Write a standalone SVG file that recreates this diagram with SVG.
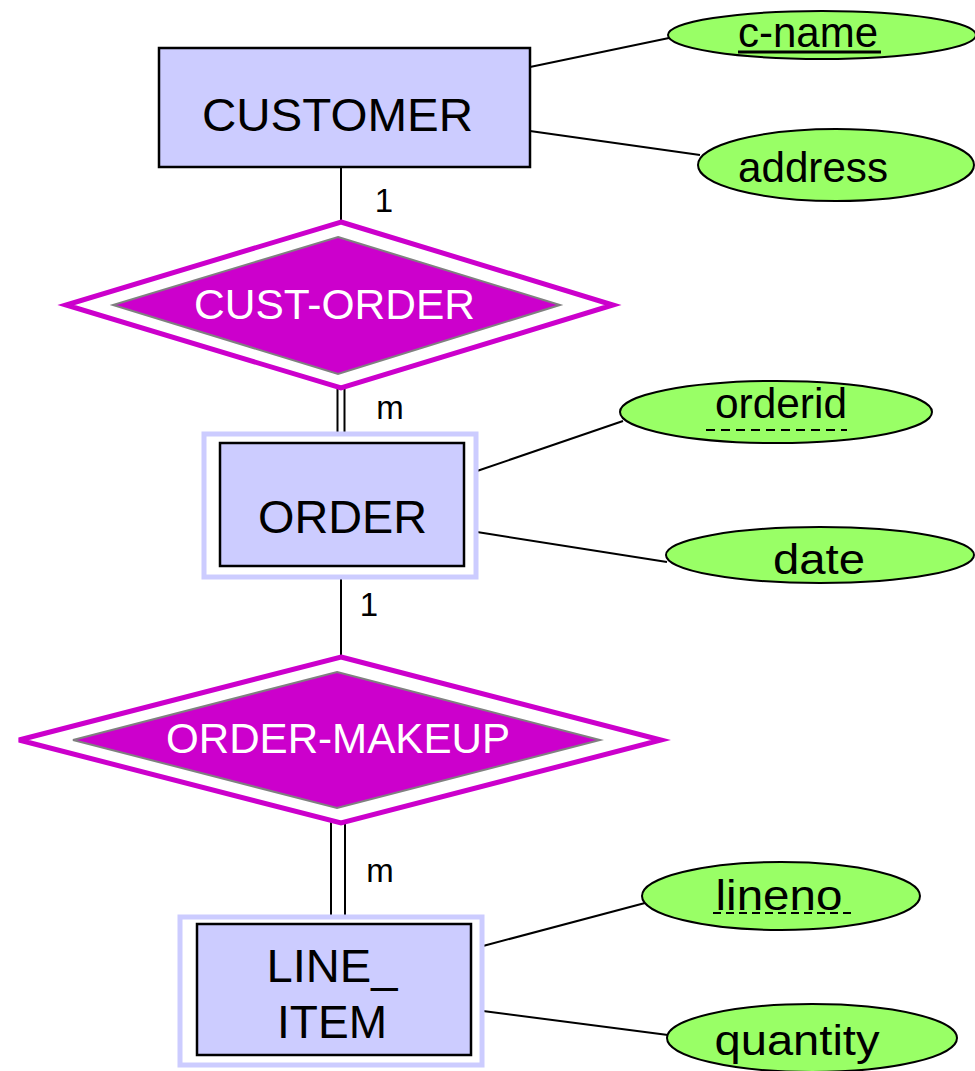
<svg xmlns="http://www.w3.org/2000/svg" width="975" height="1071" viewBox="0 0 975 1071">
<style>
text{font-family:"Liberation Sans",Arial,sans-serif;}
.ent{fill:#CCCCFF;stroke:#000;stroke-width:2.5;}
.weak{fill:#fff;stroke:#CCCCFF;stroke-width:5;}
.etxt{font-size:47px;fill:#000;text-anchor:middle;}
.relo{fill:#fff;stroke:#CC00CC;stroke-width:5;stroke-linejoin:miter;}
.reli{fill:#CC00CC;stroke:#808080;stroke-width:2;}
.rtxt{font-size:42px;fill:#fff;text-anchor:middle;}
.attr{fill:#99FF66;stroke:#000;stroke-width:2;}
.atxt{font-size:43px;fill:#000;text-anchor:middle;}
.card{font-size:33px;fill:#000;text-anchor:middle;}
.ln{stroke:#000;stroke-width:2;fill:none;}
</style>
<g id="connectors">
<line class="ln" x1="341" y1="167" x2="341" y2="224"/>
<line class="ln" x1="530" y1="67" x2="669" y2="38"/>
<line class="ln" x1="530" y1="131" x2="700" y2="155"/>
<line class="ln" x1="337.5" y1="386" x2="337.5" y2="432"/>
<line class="ln" x1="344.5" y1="386" x2="344.5" y2="432"/>
<line class="ln" x1="477" y1="471" x2="623" y2="421"/>
<line class="ln" x1="477" y1="532" x2="667" y2="562"/>
<line class="ln" x1="341" y1="578" x2="341" y2="659"/>
<line class="ln" x1="331" y1="821" x2="331" y2="916"/>
<line class="ln" x1="345" y1="821" x2="345" y2="916"/>
<line class="ln" x1="483" y1="946" x2="645" y2="903"/>
<line class="ln" x1="483" y1="1011" x2="668" y2="1035"/>
<text class="card" x="384" y="212">1</text>
<text class="card" x="390" y="419">m</text>
<text class="card" x="369" y="616">1</text>
<text class="card" x="380" y="882">m</text>
</g>
<g id="customer">
<rect class="ent" x="159" y="48" width="371" height="119"/>
<text class="etxt" x="337.5" y="131" textLength="271" lengthAdjust="spacingAndGlyphs">CUSTOMER</text>
</g>
<g id="cust-order">
<polygon class="relo" points="341,222 613,305 341,388 66,305"/>
<polygon class="reli" points="338,237 560,305 338,374 113,305"/>
<text class="rtxt" x="334.5" y="319" textLength="281" lengthAdjust="spacingAndGlyphs">CUST-ORDER</text>
</g>
<g id="order">
<rect class="weak" x="204" y="434" width="272" height="143"/>
<rect class="ent" x="220" y="443" width="244" height="123"/>
<text class="etxt" x="342.5" y="533" textLength="169" lengthAdjust="spacingAndGlyphs">ORDER</text>
</g>
<g id="order-makeup">
<polygon class="relo" points="341,657 661,740 341,823 19,740"/>
<polygon class="reli" points="337,672 600,740 337,808 73,740"/>
<text class="rtxt" x="338" y="753" textLength="344" lengthAdjust="spacingAndGlyphs">ORDER-MAKEUP</text>
</g>
<g id="line_item">
<rect class="weak" x="180" y="917" width="302" height="148"/>
<rect class="ent" x="197" y="924" width="274" height="131"/>
<text class="etxt" x="332" y="982" textLength="131" lengthAdjust="spacingAndGlyphs">LINE_</text>
<text class="etxt" x="332" y="1038" textLength="110" lengthAdjust="spacingAndGlyphs">ITEM</text>
</g>
<g id="c-name">
<ellipse class="attr" cx="822" cy="35" rx="154" ry="24"/>
<text class="atxt" x="808" y="47" textLength="140" lengthAdjust="spacingAndGlyphs">c-name</text>
<line x1="738" y1="52" x2="881" y2="52" stroke="#000" stroke-width="3"/>
</g>
<g id="address">
<ellipse class="attr" cx="836" cy="165" rx="138" ry="36"/>
<text class="atxt" x="813" y="182" textLength="150" lengthAdjust="spacingAndGlyphs">address</text>
</g>
<g id="orderid">
<ellipse class="attr" cx="776" cy="412" rx="156" ry="31"/>
<text class="atxt" x="781" y="418" textLength="132" lengthAdjust="spacingAndGlyphs">orderid</text>
<line x1="705" y1="430" x2="847" y2="430" stroke="#000" stroke-width="2" stroke-dasharray="9,6" stroke-dashoffset="-1"/>
</g>
<g id="date">
<ellipse class="attr" cx="820" cy="555" rx="154" ry="28"/>
<text class="atxt" x="819" y="574" textLength="92" lengthAdjust="spacingAndGlyphs">date</text>
</g>
<g id="lineno">
<ellipse class="attr" cx="781" cy="896" rx="139" ry="34"/>
<text class="atxt" x="779" y="910" textLength="127" lengthAdjust="spacingAndGlyphs">lineno</text>
<line x1="713" y1="913" x2="853" y2="913" stroke="#000" stroke-width="2" stroke-dasharray="8,5"/>
</g>
<g id="quantity">
<ellipse class="attr" cx="812" cy="1038" rx="145" ry="34"/>
<text class="atxt" x="797" y="1055" textLength="165" lengthAdjust="spacingAndGlyphs">quantity</text>
</g>
</svg>
